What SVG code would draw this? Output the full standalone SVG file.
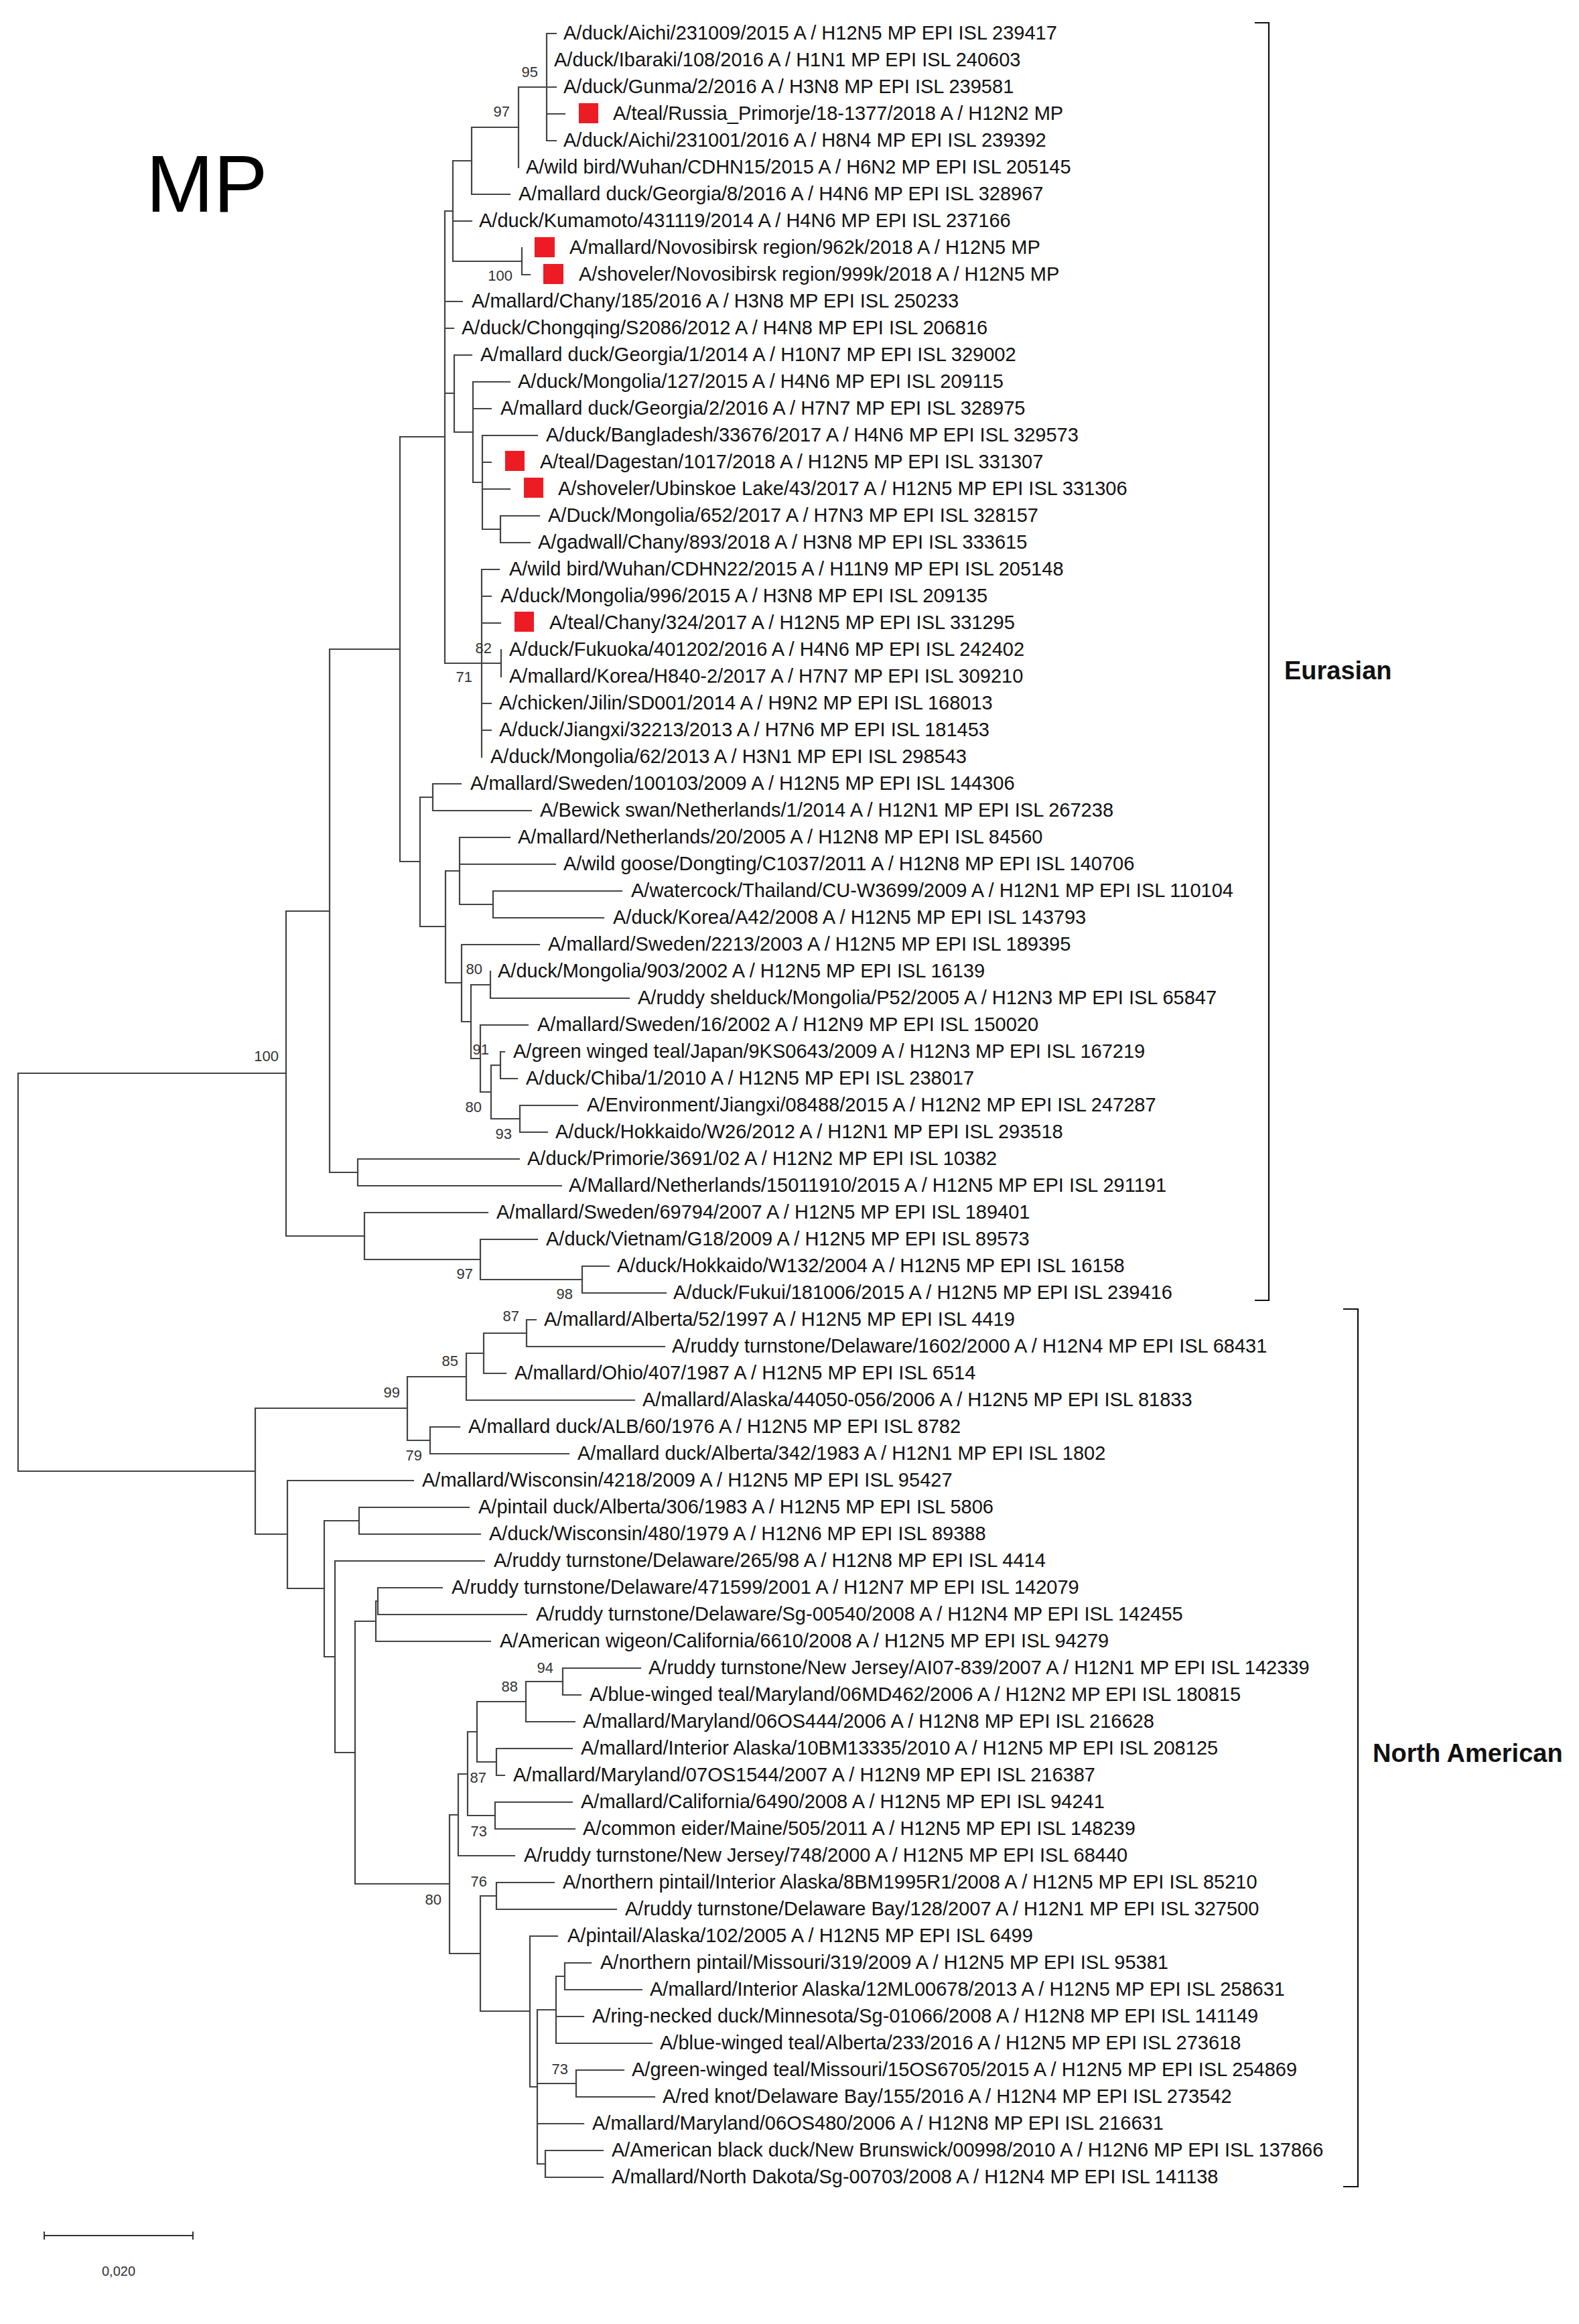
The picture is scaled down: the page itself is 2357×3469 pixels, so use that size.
<svg xmlns="http://www.w3.org/2000/svg" width="2357" height="3469" viewBox="0 0 2357 3469">
<style>
.lf{font-family:"Liberation Sans",Arial,sans-serif;font-size:29px;fill:#111}
.bs{font-family:"Liberation Sans",Arial,sans-serif;font-size:22px;fill:#333;text-anchor:end}
.br{fill:none;stroke:#444;stroke-width:2.2;stroke-linecap:square}
.mk{fill:#ed1c24}
.grp{font-family:"Liberation Sans",Arial,sans-serif;font-size:38px;font-weight:bold;fill:#111}
.bk{fill:none;stroke:#111;stroke-width:2.2}
</style>
<rect width="2357" height="3469" fill="#fff"/>
<text id="title" x="218" y="316" font-family="Liberation Sans,Arial,sans-serif" font-size="121" fill="#000">MP</text>
<g id="connectors" class="br">
<path d="M816,50V210M816,50H830M816,130H830M816,170H843M816,210H830"/>
<path d="M774,130V250M774,130H816"/>
<path d="M704,190V290M704,190H774M704,290H761"/>
<path d="M676,240V390M676,240H704M676,330H704M676,390H779"/>
<path d="M779,370V410M779,410H791"/>
<path d="M664,315V990M664,315H676M664,450H690M664,490H677M664,587H678M664,990H719"/>
<path d="M678,530V645M678,530H704M678,645H706"/>
<path d="M706,570V720M706,570H761M706,610H733M706,720H720"/>
<path d="M720,650V790M720,650H802M720,690H733M720,730H761M720,790H747"/>
<path d="M747,770V810M747,770H805M747,810H791"/>
<path d="M719,850V1130M719,850H745M719,890H733M719,930H747M719,990H748M719,1050H733M719,1090H733"/>
<path d="M748,970V1010"/>
<path d="M597,652V1286M597,652H664M597,1286H627"/>
<path d="M627,1190V1383M627,1190H646M627,1383H665"/>
<path d="M646,1170V1210M646,1170H688M646,1210H793"/>
<path d="M665,1300V1467M665,1300H686M665,1467H689"/>
<path d="M686,1250V1350M686,1250H761M686,1290H829M686,1350H736"/>
<path d="M736,1330V1370M736,1330H928M736,1370H901"/>
<path d="M689,1410V1525M689,1410H805M689,1525H703"/>
<path d="M703,1470V1580M703,1470H732M703,1580H717"/>
<path d="M732,1450V1490M732,1490H939"/>
<path d="M717,1530V1630M717,1530H788M717,1630H733"/>
<path d="M733,1590V1670M733,1590H747M733,1670H776"/>
<path d="M747,1570V1610M747,1570H753M747,1610H772"/>
<path d="M776,1650V1690M776,1650H862M776,1690H817"/>
<path d="M492,969V1750M492,969H597M492,1750H534"/>
<path d="M534,1730V1770M534,1730H775M534,1770H838"/>
<path d="M427,1360V1845M427,1360H492M427,1845H544"/>
<path d="M544,1810V1880M544,1810H728M544,1880H717"/>
<path d="M717,1850V1910M717,1850H802M717,1910H869"/>
<path d="M869,1890V1930M869,1890H909M869,1930H994"/>
<path d="M27,1602V2196M27,1602H427M27,2196H381"/>
<path d="M381,2102V2290M381,2102H608M381,2290H429"/>
<path d="M608,2055V2150M608,2055H696M608,2150H642"/>
<path d="M696,2020V2090M696,2020H722M696,2090H947"/>
<path d="M722,1990V2050M722,1990H786M722,2050H755"/>
<path d="M786,1970V2010M786,1970H800M786,2010H992"/>
<path d="M642,2130V2170M642,2130H686M642,2170H849"/>
<path d="M429,2210V2371M429,2210H617M429,2371H484"/>
<path d="M484,2270V2473M484,2270H536M484,2473H500"/>
<path d="M536,2250V2290M536,2250H700M536,2290H717"/>
<path d="M500,2330V2616M500,2330H723M500,2616H530"/>
<path d="M530,2420V2812M530,2420H561M530,2812H671"/>
<path d="M561,2390V2450M561,2390H564M561,2450H732"/>
<path d="M564,2370V2410M564,2370H660M564,2410H786"/>
<path d="M671,2709V2916M671,2709H684M671,2916H717"/>
<path d="M684,2648V2770M684,2648H698M684,2770H768"/>
<path d="M698,2585V2710M698,2585H712M698,2710H739"/>
<path d="M712,2540V2630M712,2540H785M712,2630H741"/>
<path d="M785,2510V2570M785,2510H840M785,2570H858"/>
<path d="M840,2490V2530M840,2490H956M840,2530H867"/>
<path d="M741,2610V2650M741,2610H854M741,2650H753"/>
<path d="M739,2690V2730M739,2690H854M739,2730H858"/>
<path d="M717,2830V3002M717,2830H741M717,3002H791"/>
<path d="M741,2810V2850M741,2810H827M741,2850H920"/>
<path d="M791,2890V3115M791,2890H832M791,3115H802"/>
<path d="M802,3000V3230M802,3000H830M802,3110H860M802,3170H871M802,3230H814"/>
<path d="M830,2950V3050M830,2950H843M830,3010H871M830,3050H973"/>
<path d="M843,2930V2970M843,2930H882M843,2970H958"/>
<path d="M860,3090V3130M860,3090H931M860,3130H977"/>
<path d="M814,3210V3250M814,3210H900M814,3250H900"/>
</g>
<g id="bootstrap" class="bs">
<text x="803" y="115">95</text>
<text x="761" y="174">97</text>
<text x="765" y="419">100</text>
<text x="734" y="975">82</text>
<text x="705" y="1018">71</text>
<text x="720" y="1454">80</text>
<text x="730" y="1574">91</text>
<text x="719" y="1660">80</text>
<text x="764" y="1700">93</text>
<text x="416" y="1584">100</text>
<text x="706" y="1909">97</text>
<text x="855" y="1939">98</text>
<text x="775" y="1972">87</text>
<text x="684" y="2039">85</text>
<text x="597" y="2086">99</text>
<text x="630" y="2180">79</text>
<text x="826" y="2497">94</text>
<text x="773" y="2525">88</text>
<text x="726" y="2661">87</text>
<text x="727" y="2741">73</text>
<text x="727" y="2816">76</text>
<text x="659" y="2843">80</text>
<text x="848" y="3096">73</text>
</g>
<g id="leaves" class="lf" transform="translate(0,-1)">
<g id="leaf-0"><text x="841" y="60">A/duck/Aichi/231009/2015 A / H12N5 MP EPI ISL 239417</text></g>
<g id="leaf-1"><text x="827" y="100">A/duck/Ibaraki/108/2016 A / H1N1 MP EPI ISL 240603</text></g>
<g id="leaf-2"><text x="841" y="140">A/duck/Gunma/2/2016 A / H3N8 MP EPI ISL 239581</text></g>
<g id="leaf-3"><rect class="mk" x="864" y="155" width="29" height="30"/><text x="915" y="180">A/teal/Russia_Primorje/18-1377/2018 A / H12N2 MP</text></g>
<g id="leaf-4"><text x="841" y="220">A/duck/Aichi/231001/2016 A / H8N4 MP EPI ISL 239392</text></g>
<g id="leaf-5"><text x="785" y="260">A/wild bird/Wuhan/CDHN15/2015 A / H6N2 MP EPI ISL 205145</text></g>
<g id="leaf-6"><text x="774" y="300">A/mallard duck/Georgia/8/2016 A / H4N6 MP EPI ISL 328967</text></g>
<g id="leaf-7"><text x="715" y="340">A/duck/Kumamoto/431119/2014 A / H4N6 MP EPI ISL 237166</text></g>
<g id="leaf-8"><rect class="mk" x="798" y="355" width="30" height="30"/><text x="850" y="380">A/mallard/Novosibirsk region/962k/2018 A / H12N5 MP</text></g>
<g id="leaf-9"><rect class="mk" x="811" y="395" width="30" height="30"/><text x="864" y="420">A/shoveler/Novosibirsk region/999k/2018 A / H12N5 MP</text></g>
<g id="leaf-10"><text x="704" y="460">A/mallard/Chany/185/2016 A / H3N8 MP EPI ISL 250233</text></g>
<g id="leaf-11"><text x="689" y="500">A/duck/Chongqing/S2086/2012 A / H4N8 MP EPI ISL 206816</text></g>
<g id="leaf-12"><text x="717" y="540">A/mallard duck/Georgia/1/2014 A / H10N7 MP EPI ISL 329002</text></g>
<g id="leaf-13"><text x="773" y="580">A/duck/Mongolia/127/2015 A / H4N6 MP EPI ISL 209115</text></g>
<g id="leaf-14"><text x="747" y="620">A/mallard duck/Georgia/2/2016 A / H7N7 MP EPI ISL 328975</text></g>
<g id="leaf-15"><text x="815" y="660">A/duck/Bangladesh/33676/2017 A / H4N6 MP EPI ISL 329573</text></g>
<g id="leaf-16"><rect class="mk" x="754" y="674" width="29" height="30"/><text x="806" y="700">A/teal/Dagestan/1017/2018 A / H12N5 MP EPI ISL 331307</text></g>
<g id="leaf-17"><rect class="mk" x="782" y="714" width="29" height="30"/><text x="833" y="740">A/shoveler/Ubinskoe Lake/43/2017 A / H12N5 MP EPI ISL 331306</text></g>
<g id="leaf-18"><text x="818" y="780">A/Duck/Mongolia/652/2017 A / H7N3 MP EPI ISL 328157</text></g>
<g id="leaf-19"><text x="803" y="820">A/gadwall/Chany/893/2018 A / H3N8 MP EPI ISL 333615</text></g>
<g id="leaf-20"><text x="760" y="860">A/wild bird/Wuhan/CDHN22/2015 A / H11N9 MP EPI ISL 205148</text></g>
<g id="leaf-21"><text x="747" y="900">A/duck/Mongolia/996/2015 A / H3N8 MP EPI ISL 209135</text></g>
<g id="leaf-22"><rect class="mk" x="768" y="914" width="29" height="30"/><text x="820" y="940">A/teal/Chany/324/2017 A / H12N5 MP EPI ISL 331295</text></g>
<g id="leaf-23"><text x="760" y="980">A/duck/Fukuoka/401202/2016 A / H4N6 MP EPI ISL 242402</text></g>
<g id="leaf-24"><text x="760" y="1020">A/mallard/Korea/H840-2/2017 A / H7N7 MP EPI ISL 309210</text></g>
<g id="leaf-25"><text x="745" y="1060">A/chicken/Jilin/SD001/2014 A / H9N2 MP EPI ISL 168013</text></g>
<g id="leaf-26"><text x="745" y="1100">A/duck/Jiangxi/32213/2013 A / H7N6 MP EPI ISL 181453</text></g>
<g id="leaf-27"><text x="732" y="1140">A/duck/Mongolia/62/2013 A / H3N1 MP EPI ISL 298543</text></g>
<g id="leaf-28"><text x="702" y="1180">A/mallard/Sweden/100103/2009 A / H12N5 MP EPI ISL 144306</text></g>
<g id="leaf-29"><text x="806" y="1220">A/Bewick swan/Netherlands/1/2014 A / H12N1 MP EPI ISL 267238</text></g>
<g id="leaf-30"><text x="773" y="1260">A/mallard/Netherlands/20/2005 A / H12N8 MP EPI ISL 84560</text></g>
<g id="leaf-31"><text x="841" y="1300">A/wild goose/Dongting/C1037/2011 A / H12N8 MP EPI ISL 140706</text></g>
<g id="leaf-32"><text x="942" y="1340">A/watercock/Thailand/CU-W3699/2009 A / H12N1 MP EPI ISL 110104</text></g>
<g id="leaf-33"><text x="915" y="1380">A/duck/Korea/A42/2008 A / H12N5 MP EPI ISL 143793</text></g>
<g id="leaf-34"><text x="818" y="1420">A/mallard/Sweden/2213/2003 A / H12N5 MP EPI ISL 189395</text></g>
<g id="leaf-35"><text x="743" y="1460">A/duck/Mongolia/903/2002 A / H12N5 MP EPI ISL 16139</text></g>
<g id="leaf-36"><text x="952" y="1500">A/ruddy shelduck/Mongolia/P52/2005 A / H12N3 MP EPI ISL 65847</text></g>
<g id="leaf-37"><text x="802" y="1540">A/mallard/Sweden/16/2002 A / H12N9 MP EPI ISL 150020</text></g>
<g id="leaf-38"><text x="766" y="1580">A/green winged teal/Japan/9KS0643/2009 A / H12N3 MP EPI ISL 167219</text></g>
<g id="leaf-39"><text x="785" y="1620">A/duck/Chiba/1/2010 A / H12N5 MP EPI ISL 238017</text></g>
<g id="leaf-40"><text x="876" y="1660">A/Environment/Jiangxi/08488/2015 A / H12N2 MP EPI ISL 247287</text></g>
<g id="leaf-41"><text x="829" y="1700">A/duck/Hokkaido/W26/2012 A / H12N1 MP EPI ISL 293518</text></g>
<g id="leaf-42"><text x="787" y="1740">A/duck/Primorie/3691/02 A / H12N2 MP EPI ISL 10382</text></g>
<g id="leaf-43"><text x="849" y="1780">A/Mallard/Netherlands/15011910/2015 A / H12N5 MP EPI ISL 291191</text></g>
<g id="leaf-44"><text x="741" y="1820">A/mallard/Sweden/69794/2007 A / H12N5 MP EPI ISL 189401</text></g>
<g id="leaf-45"><text x="815" y="1860">A/duck/Vietnam/G18/2009 A / H12N5 MP EPI ISL 89573</text></g>
<g id="leaf-46"><text x="921" y="1900">A/duck/Hokkaido/W132/2004 A / H12N5 MP EPI ISL 16158</text></g>
<g id="leaf-47"><text x="1005" y="1940">A/duck/Fukui/181006/2015 A / H12N5 MP EPI ISL 239416</text></g>
<g id="leaf-48"><text x="812" y="1980">A/mallard/Alberta/52/1997 A / H12N5 MP EPI ISL 4419</text></g>
<g id="leaf-49"><text x="1003" y="2020">A/ruddy turnstone/Delaware/1602/2000 A / H12N4 MP EPI ISL 68431</text></g>
<g id="leaf-50"><text x="768" y="2060">A/mallard/Ohio/407/1987 A / H12N5 MP EPI ISL 6514</text></g>
<g id="leaf-51"><text x="959" y="2100">A/mallard/Alaska/44050-056/2006 A / H12N5 MP EPI ISL 81833</text></g>
<g id="leaf-52"><text x="699" y="2140">A/mallard duck/ALB/60/1976 A / H12N5 MP EPI ISL 8782</text></g>
<g id="leaf-53"><text x="862" y="2180">A/mallard duck/Alberta/342/1983 A / H12N1 MP EPI ISL 1802</text></g>
<g id="leaf-54"><text x="630" y="2220">A/mallard/Wisconsin/4218/2009 A / H12N5 MP EPI ISL 95427</text></g>
<g id="leaf-55"><text x="714" y="2260">A/pintail duck/Alberta/306/1983 A / H12N5 MP EPI ISL 5806</text></g>
<g id="leaf-56"><text x="730" y="2300">A/duck/Wisconsin/480/1979 A / H12N6 MP EPI ISL 89388</text></g>
<g id="leaf-57"><text x="737" y="2340">A/ruddy turnstone/Delaware/265/98 A / H12N8 MP EPI ISL 4414</text></g>
<g id="leaf-58"><text x="674" y="2380">A/ruddy turnstone/Delaware/471599/2001 A / H12N7 MP EPI ISL 142079</text></g>
<g id="leaf-59"><text x="800" y="2420">A/ruddy turnstone/Delaware/Sg-00540/2008 A / H12N4 MP EPI ISL 142455</text></g>
<g id="leaf-60"><text x="746" y="2460">A/American wigeon/California/6610/2008 A / H12N5 MP EPI ISL 94279</text></g>
<g id="leaf-61"><text x="968" y="2500">A/ruddy turnstone/New Jersey/AI07-839/2007 A / H12N1 MP EPI ISL 142339</text></g>
<g id="leaf-62"><text x="880" y="2540">A/blue-winged teal/Maryland/06MD462/2006 A / H12N2 MP EPI ISL 180815</text></g>
<g id="leaf-63"><text x="870" y="2580">A/mallard/Maryland/06OS444/2006 A / H12N8 MP EPI ISL 216628</text></g>
<g id="leaf-64"><text x="867" y="2620">A/mallard/Interior Alaska/10BM13335/2010 A / H12N5 MP EPI ISL 208125</text></g>
<g id="leaf-65"><text x="766" y="2660">A/mallard/Maryland/07OS1544/2007 A / H12N9 MP EPI ISL 216387</text></g>
<g id="leaf-66"><text x="867" y="2700">A/mallard/California/6490/2008 A / H12N5 MP EPI ISL 94241</text></g>
<g id="leaf-67"><text x="870" y="2740">A/common eider/Maine/505/2011 A / H12N5 MP EPI ISL 148239</text></g>
<g id="leaf-68"><text x="782" y="2780">A/ruddy turnstone/New Jersey/748/2000 A / H12N5 MP EPI ISL 68440</text></g>
<g id="leaf-69"><text x="840" y="2820">A/northern pintail/Interior Alaska/8BM1995R1/2008 A / H12N5 MP EPI ISL 85210</text></g>
<g id="leaf-70"><text x="933" y="2860">A/ruddy turnstone/Delaware Bay/128/2007 A / H12N1 MP EPI ISL 327500</text></g>
<g id="leaf-71"><text x="847" y="2900">A/pintail/Alaska/102/2005 A / H12N5 MP EPI ISL 6499</text></g>
<g id="leaf-72"><text x="896" y="2940">A/northern pintail/Missouri/319/2009 A / H12N5 MP EPI ISL 95381</text></g>
<g id="leaf-73"><text x="970" y="2980">A/mallard/Interior Alaska/12ML00678/2013 A / H12N5 MP EPI ISL 258631</text></g>
<g id="leaf-74"><text x="884" y="3020">A/ring-necked duck/Minnesota/Sg-01066/2008 A / H12N8 MP EPI ISL 141149</text></g>
<g id="leaf-75"><text x="985" y="3060">A/blue-winged teal/Alberta/233/2016 A / H12N5 MP EPI ISL 273618</text></g>
<g id="leaf-76"><text x="943" y="3100">A/green-winged teal/Missouri/15OS6705/2015 A / H12N5 MP EPI ISL 254869</text></g>
<g id="leaf-77"><text x="989" y="3140">A/red knot/Delaware Bay/155/2016 A / H12N4 MP EPI ISL 273542</text></g>
<g id="leaf-78"><text x="884" y="3180">A/mallard/Maryland/06OS480/2006 A / H12N8 MP EPI ISL 216631</text></g>
<g id="leaf-79"><text x="913" y="3220">A/American black duck/New Brunswick/00998/2010 A / H12N6 MP EPI ISL 137866</text></g>
<g id="leaf-80"><text x="913" y="3260">A/mallard/North Dakota/Sg-00703/2008 A / H12N4 MP EPI ISL 141138</text></g>
</g>
<g id="clade-eurasian">
<path class="bk" d="M1873,34H1894V1941H1873"/>
<text class="grp" x="1917" y="1014">Eurasian</text>
</g>
<g id="clade-north-american">
<path class="bk" d="M2005,1954H2027V3264H2005"/>
<text class="grp" x="2049" y="2630">North American</text>
</g>
<g id="scale-bar">
<path d="M66,3331V3343M66,3337H288M288,3331V3343" fill="none" stroke="#333" stroke-width="2"/>
<text x="177" y="3397" font-family="Liberation Sans,Arial,sans-serif" font-size="20" fill="#333" text-anchor="middle">0,020</text>
</g>
</svg>
